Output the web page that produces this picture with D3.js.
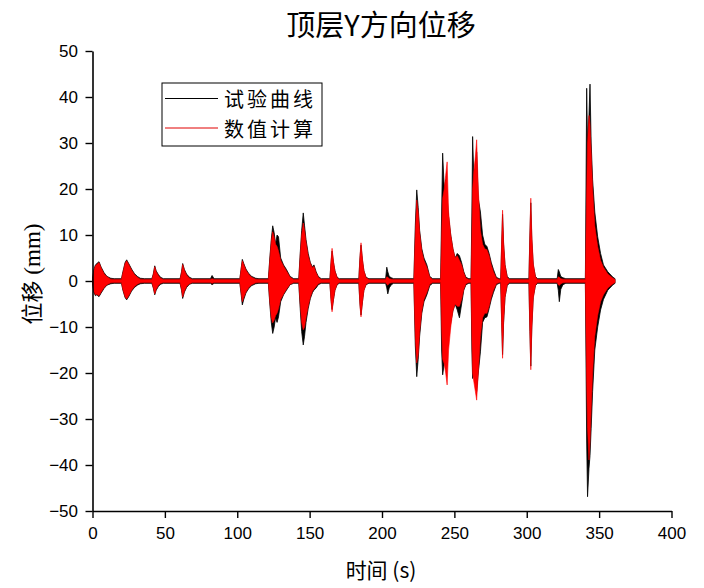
<!DOCTYPE html>
<html>
<head>
<meta charset="utf-8">
<script src="https://cdn.jsdelivr.net/npm/d3@7"></script>
<style>
  html, body { margin: 0; padding: 0; background: #fff; }
  svg { display: block; }
  .cjk { font-family: "Noto Sans CJK SC", "Liberation Sans", sans-serif; }
</style>
</head>
<body>
<svg id="chart" width="704" height="588"></svg>
<script>
// ---- data (envelope of the dense oscillation) ----
const time = [
  0, 1, 2, 3, 4.5, 6, 8, 10, 12.6, 15,
  20, 21, 22.5, 23.6, 25, 27, 29, 31, 33, 36,
  41, 42, 43, 44, 45.5, 47, 49,
  60.5, 61.5, 62.3, 63.5, 65, 67, 69,
  81.5, 82.6, 84,
  101.8, 102.8, 103.5, 104.5, 106, 108, 110, 112.7, 115,
  121.5, 122.5, 123.5, 124.5, 125.5, 126.5, 127.5, 128.5, 130, 132, 134, 136.5, 139,
  142.5, 143.5, 144.5, 145.6, 146.5, 147.5, 149, 150.5, 152, 153, 154.5, 156, 158,
  164, 164.8, 165.5, 166.5, 167.5, 169, 170.5,
  184, 184.8, 185.5, 186.5, 187.5, 189, 191,
  202.5, 203.3, 204, 205, 206.5, 208,
  222, 223, 224, 225, 226, 227.5, 229, 231, 233, 235,
  240.5, 241.2, 241.9, 243, 244, 245, 246, 247.5, 249, 250.5, 252, 253.5, 255, 256.5, 258, 260,
  261.5, 262.1, 262.6, 263.5, 264.5, 265.4, 266.5, 268, 269.5, 271, 272.5, 274, 275.5, 277, 279, 281,
  282, 282.7, 283.3, 284, 285, 286.5, 288,
  301.5, 302.2, 302.8, 303.5, 304.5, 306, 307.5,
  321, 321.8, 322.5, 323.5, 325, 327,
  340.5, 341.4, 342, 343, 343.7, 344.5, 345.5, 347, 349, 351, 353, 356, 359.6, 361
];
const testUpper = [
  0.5, 2.5, 3.5, 3.8, 4.2, 3.0, 1.8, 1.0, 0.6, 0.5,
  0.5, 2.0, 4.0, 4.6, 3.8, 2.6, 1.6, 1.0, 0.6, 0.5,
  0.5, 1.5, 3.3, 2.2, 1.4, 0.8, 0.5,
  0.5, 2.0, 3.8, 2.5, 1.5, 0.8, 0.5,
  0.5, 1.2, 0.5,
  0.5, 3.0, 4.7, 3.8, 2.6, 1.6, 1.0, 0.6, 0.5,
  0.5, 5, 9, 12, 10.5, 8, 10, 9.6, 5, 3.5, 2.5, 1.0, 0.5,
  0.5, 6, 11, 14.8, 12, 9, 6, 4, 3, 3.5, 2, 1, 0.5,
  0.5, 4, 6.5, 4, 2.2, 0.8, 0.5,
  0.5, 5, 7.8, 4.5, 2.2, 0.8, 0.5,
  0.5, 3.0, 2.0, 1.0, 0.7, 0.5,
  0.5, 12, 19.8, 16, 11, 7, 5, 3.5, 1.0, 0.5,
  0.5, 15, 27.8, 20, 22, 18, 14, 10, 7, 5, 6, 5.5, 4, 2, 0.8, 0.5,
  0.5, 15, 31.4, 22, 24, 28, 18, 15, 10, 8, 7.5, 6, 4, 2.5, 0.8, 0.5,
  0.5, 8, 14.5, 8, 3.5, 1, 0.5,
  0.5, 10, 17, 9, 3.5, 1, 0.5,
  0.5, 2.5, 2.0, 1.0, 0.7, 0.5,
  0.5, 41.9, 30, 36, 42.8, 30, 22, 15, 9.6, 6, 3.5, 2, 0.8, 0.5
];
const testLower = [
  -0.5, -2.5, -3.2, -3.0, -3.4, -2.6, -1.6, -0.9, -0.6, -0.5,
  -0.5, -2.0, -3.6, -4.1, -3.4, -2.2, -1.4, -0.9, -0.6, -0.5,
  -0.5, -1.5, -3.0, -2.0, -1.2, -0.7, -0.5,
  -0.5, -2.0, -3.8, -2.4, -1.4, -0.7, -0.5,
  -0.5, -0.8, -0.5,
  -0.5, -3.2, -5.2, -4.0, -2.6, -1.6, -1.0, -0.6, -0.5,
  -0.5, -5, -9, -11.4, -10, -8, -9, -7.8, -4.5, -3, -2, -0.8, -0.5,
  -0.5, -6, -11, -13.9, -12, -9, -6, -3.8, -2.5, -2, -1.5, -0.8, -0.5,
  -0.5, -4, -6.2, -4, -2, -0.8, -0.5,
  -0.5, -5, -7.4, -4.5, -2, -0.8, -0.5,
  -0.5, -1.5, -2.8, -1.5, -0.8, -0.5,
  -0.5, -14, -20.8, -17, -12, -7, -4.5, -3, -1.0, -0.5,
  -0.5, -15, -20.4, -18, -17, -14, -12, -9, -6.5, -5, -6.3, -8, -5, -2, -0.8, -0.5,
  -0.5, -15, -21.2, -20, -22, -24, -20, -15.4, -9, -8, -7.8, -6, -4, -2.5, -0.8, -0.5,
  -0.5, -9, -16, -9, -3.5, -1, -0.5,
  -0.5, -11, -18.5, -10, -3.5, -1, -0.5,
  -0.5, -2.0, -4.5, -1.8, -0.8, -0.5,
  -0.5, -35, -46.9, -40.7, -38, -32, -24, -15, -10, -6.3, -4, -2, -0.8, -0.5
];
const calcUpper = [
  0.35, 2.3, 3.3, 3.6, 4.0, 2.8, 1.6, 0.9, 0.4, 0.35,
  0.35, 1.8, 3.8, 4.4, 3.6, 2.4, 1.4, 0.8, 0.4, 0.35,
  0.35, 1.4, 3.1, 2.0, 1.2, 0.6, 0.35,
  0.35, 1.8, 3.6, 2.3, 1.3, 0.6, 0.35,
  0.35, 0.5, 0.35,
  0.35, 2.8, 4.4, 3.6, 2.4, 1.4, 0.8, 0.4, 0.35,
  0.35, 4.5, 8.5, 10.7, 9.5, 8, 7.5, 6.5, 4.5, 3.2, 2.2, 0.8, 0.35,
  0.35, 5.5, 10, 12.6, 11, 8.5, 5.5, 3.8, 2.8, 3.2, 1.8, 0.8, 0.35,
  0.35, 4.5, 7.1, 4.2, 2.2, 0.7, 0.35,
  0.35, 5.5, 8.3, 4.8, 2.3, 0.7, 0.35,
  0.35, 0.9, 0.8, 0.5, 0.4, 0.35,
  0.35, 10, 17.6, 15, 10.5, 6.5, 4.5, 3, 0.8, 0.35,
  0.35, 10, 18, 20, 23, 25.9, 15, 10, 7, 5, 5.5, 4.5, 3.5, 1.8, 0.6, 0.35,
  0.35, 10, 20, 24, 27, 30.7, 20, 11, 8, 7, 6.8, 5.5, 3.5, 2, 0.6, 0.35,
  0.35, 9, 15.4, 8.5, 3.5, 0.8, 0.35,
  0.35, 11, 18, 10, 3.8, 0.9, 0.35,
  0.35, 0.9, 0.8, 0.5, 0.4, 0.35,
  0.35, 20, 30, 36, 34, 28, 20, 12, 7.5, 4.5, 3, 1.5, 0.6, 0.35
];
const calcLower = [
  -0.35, -2.3, -3.0, -2.9, -3.2, -2.4, -1.4, -0.8, -0.4, -0.35,
  -0.35, -1.8, -3.4, -3.9, -3.2, -2.0, -1.2, -0.7, -0.4, -0.35,
  -0.35, -1.4, -2.8, -1.8, -1.0, -0.5, -0.35,
  -0.35, -1.8, -3.5, -2.2, -1.2, -0.6, -0.35,
  -0.35, -0.5, -0.35,
  -0.35, -2.8, -4.5, -3.6, -2.4, -1.4, -0.8, -0.4, -0.35,
  -0.35, -4.5, -8, -9.1, -8.5, -7.5, -7, -6, -4, -2.8, -1.8, -0.7, -0.35,
  -0.35, -5, -9, -10.6, -10, -8, -5.5, -3.5, -2.2, -1.8, -1.2, -0.6, -0.35,
  -0.35, -4.5, -6.7, -4, -2, -0.7, -0.35,
  -0.35, -5.5, -7.8, -4.6, -2.1, -0.7, -0.35,
  -0.35, -0.7, -0.9, -0.5, -0.4, -0.35,
  -0.35, -12, -17.8, -16, -11, -6.5, -4, -2.5, -0.7, -0.35,
  -0.35, -10, -17, -18, -20, -22.6, -15, -10, -6.5, -5, -5.5, -5.5, -4, -1.8, -0.6, -0.35,
  -0.35, -12, -20, -22, -24, -25.9, -20, -12, -8, -7, -7, -5.5, -3.5, -2, -0.6, -0.35,
  -0.35, -10, -16.8, -9, -3.5, -0.8, -0.35,
  -0.35, -12, -19.3, -10.5, -3.8, -0.9, -0.35,
  -0.35, -0.8, -1.0, -0.6, -0.4, -0.35,
  -0.35, -22, -32, -38.9, -35, -28, -20, -12, -7.5, -4.5, -3, -1.5, -0.6, -0.35
];
const seriesNames = ["试验曲线", "数值计算"];
const xTicks = [0, 50, 100, 150, 200, 250, 300, 350, 400];
const yTicks = [-50, -40, -30, -20, -10, 0, 10, 20, 30, 40, 50];
const titleText = "顶层Y方向位移";
const xLabel = "时间 (s)";
const yLabelCJK = "位移";
const yLabelUnit = " (mm)";

// ---- drawing ----
const svg = d3.select("#chart");
svg.append("rect").attr("width", 704).attr("height", 588).attr("fill", "#fff");

const x = d3.scaleLinear().domain([0, 400]).range([92.5, 671.5]);
const y = d3.scaleLinear().domain([-50, 50]).range([511, 51]);

const testData = time.map((t, i) => ({ t, up: testUpper[i], lo: testLower[i] }));
const calcData = time.map((t, i) => ({ t, up: calcUpper[i], lo: calcLower[i] }));

const area = d3.area()
  .x(d => x(d.t))
  .y0(d => y(d.lo))
  .y1(d => y(d.up));

svg.append("path").datum(testData)
  .attr("d", area).attr("fill", "#000").attr("stroke", "#000")
  .attr("stroke-width", 0.8).attr("stroke-linejoin", "round");
svg.append("path").datum(calcData)
  .attr("d", area).attr("fill", "#ff0000").attr("stroke", "#ff0000")
  .attr("stroke-width", 0.6).attr("stroke-linejoin", "round");

// axes
const tickFont = "'Liberation Sans', Arial, sans-serif";
const xMinor = d3.range(0, 401, 10).filter(v => v % 50 !== 0);
const yMinor = d3.range(-50, 51, 2).filter(v => v % 10 !== 0);

const gx = svg.append("g").attr("transform", "translate(0,511)");
gx.call(d3.axisBottom(x).tickValues(xMinor).tickSize(4).tickFormat(""));
gx.call(d3.axisBottom(x).tickValues(xTicks).tickSize(7).tickPadding(9).tickSizeOuter(0).tickFormat(d3.format("d")));

const gy = svg.append("g").attr("transform", "translate(92.5,0)");
gy.call(d3.axisLeft(y).tickValues(yMinor).tickSize(4).tickFormat(""));
gy.call(d3.axisLeft(y).tickValues(yTicks).tickSize(7).tickPadding(7.5).tickSizeOuter(0).tickFormat(d3.format("d")));

svg.selectAll(".domain").attr("stroke", "#000").attr("stroke-width", 1.6);
svg.selectAll(".tick line").attr("stroke", "#000").attr("stroke-width", 1.4);
svg.selectAll(".tick text").attr("fill", "#000")
  .style("font-family", tickFont).style("font-size", "17px");

// title
svg.append("text").attr("class", "cjk")
  .attr("x", 381).attr("y", 36).attr("text-anchor", "middle")
  .style("font-size", "29px").attr("fill", "#000").text(titleText);

// x label
svg.append("text").attr("class", "cjk")
  .attr("x", 381).attr("y", 578).attr("text-anchor", "middle")
  .style("font-size", "21px").attr("fill", "#000")
  .text(xLabel);

// y label
const yl = svg.append("text")
  .attr("transform", "translate(40,274) rotate(-90)")
  .attr("text-anchor", "middle").attr("fill", "#000")
  .style("font-size", "22px");
yl.append("tspan").attr("class", "cjk").text(yLabelCJK);
yl.append("tspan").style("font-family", "'Liberation Serif', 'Times New Roman', serif").style("font-size", "23px").text(yLabelUnit);

// legend
const lg = svg.append("g");
lg.append("rect").attr("x", 162).attr("y", 83).attr("width", 160).attr("height", 63)
  .attr("fill", "#fff").attr("stroke", "#000").attr("stroke-width", 1);
const legendColors = ["#000", "#e00000"];
const rowY = [98.5, 128];
seriesNames.forEach((name, i) => {
  lg.append("line").attr("x1", 165).attr("x2", 218).attr("y1", rowY[i]).attr("y2", rowY[i])
    .attr("stroke", legendColors[i]).attr("stroke-width", 1);
  lg.append("text").attr("class", "cjk").attr("x", 224).attr("y", rowY[i])
    .attr("dominant-baseline", "central").style("font-size", "20px")
    .style("letter-spacing", "3px").attr("fill", "#000")
    .text(name);
});
</script>
</body>
</html>
